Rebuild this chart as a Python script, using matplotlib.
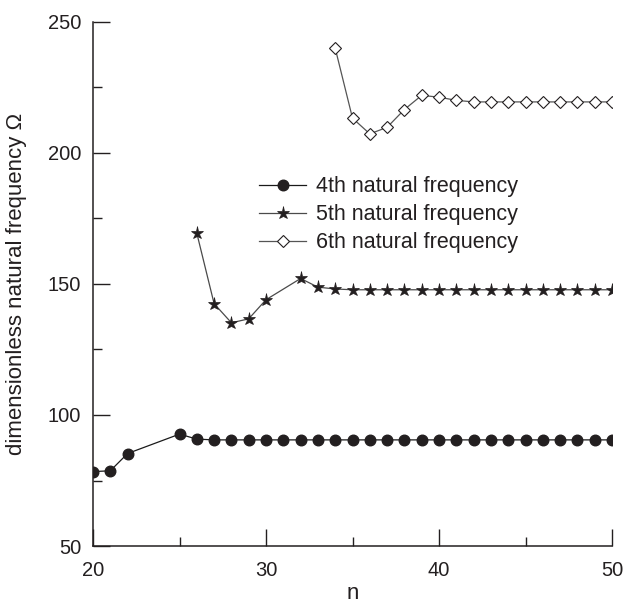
import matplotlib
matplotlib.use("Agg")
import matplotlib.pyplot as plt
from matplotlib.ticker import MultipleLocator

plt.rcParams['font.family'] = ['Liberation Sans', 'DejaVu Sans']

# Dimensionless natural frequencies versus n
n4 = [20, 21, 22, 25, 26, 27, 28, 29, 30, 31, 32, 33, 34, 35, 36, 37, 38,
      39, 40, 41, 42, 43, 44, 45, 46, 47, 48, 49, 50]
f4 = [78.4, 78.7, 85.3, 92.7, 90.8, 90.5, 90.5, 90.5, 90.5, 90.5, 90.5,
      90.5, 90.5, 90.5, 90.5, 90.5, 90.5, 90.5, 90.5, 90.5, 90.5, 90.5,
      90.5, 90.5, 90.5, 90.5, 90.5, 90.5, 90.5]

n5 = [26, 27, 28, 29, 30, 32, 33, 34, 35, 36, 37, 38, 39, 40, 41, 42, 43,
      44, 45, 46, 47, 48, 49, 50]
f5 = [169.4, 142.5, 135.2, 136.7, 144.0, 152.1, 148.8, 148.1, 147.8, 147.8,
      147.8, 147.8, 147.8, 147.8, 147.8, 147.8, 147.8, 147.8, 147.8, 147.8,
      147.8, 147.8, 147.8, 147.8]

n6 = [34, 35, 36, 37, 38, 39, 40, 41, 42, 43, 44, 45, 46, 47, 48, 49, 50]
f6 = [240.0, 213.3, 207.3, 209.8, 216.6, 222.0, 221.3, 220.1, 219.5, 219.5,
      219.5, 219.5, 219.5, 219.5, 219.5, 219.5, 219.5]

labels = ["4th natural frequency", "5th natural frequency",
          "6th natural frequency"]

ink = '#231f20'
fs_tick = 14.5
fs_label = 16
fs_leg = 15.5

fig = plt.figure(figsize=(6.26, 6.05), dpi=100)
ax = fig.add_axes([93 / 626, 1 - 546 / 605, (612 - 93) / 626, (546 - 22) / 605])

ax.plot(n4, f4, color='#1a1a1a', lw=0.9, marker='o', ms=7.6,
        mfc=ink, mec=ink, label=labels[0])
ax.plot(n5, f5, color='#4a4a4a', lw=0.9, marker='*', ms=9.5,
        mfc=ink, mec=ink, mew=0.5, label=labels[1])
ax.plot(n6, f6, color='#555555', lw=0.9, marker='D', ms=6.5,
        mfc='white', mec=ink, mew=0.8, label=labels[2])

ax.set_xlim(20, 50)
ax.set_ylim(50, 250)
ax.xaxis.set_major_locator(MultipleLocator(10))
ax.xaxis.set_minor_locator(MultipleLocator(5))
ax.yaxis.set_major_locator(MultipleLocator(50))
ax.yaxis.set_minor_locator(MultipleLocator(25))

for side in ('top', 'right'):
    ax.spines[side].set_visible(False)
for side in ('left', 'bottom'):
    ax.spines[side].set_linewidth(1.1)
    ax.spines[side].set_color(ink)

ax.tick_params(which='major', direction='in', length=12, width=1.0,
               colors=ink, labelsize=fs_tick)
ax.tick_params(which='minor', direction='in', length=6.8, width=1.0,
               colors=ink)
ax.tick_params(axis='y', which='major', pad=8.5)
ax.tick_params(axis='x', which='major', pad=11)

ax.set_xlabel('n', fontsize=fs_label, color=ink, labelpad=2)
ax.set_ylabel('dimensionless natural frequency Ω', fontsize=fs_label,
              color=ink)
ax.yaxis.set_label_coords(-0.128, 0.5)

leg = ax.legend(loc='center left', bbox_to_anchor=(0.32, 0.632),
                frameon=False, fontsize=fs_leg, handlelength=2.2,
                handletextpad=0.45, labelspacing=0.33, borderpad=0,
                borderaxespad=0)
for t in leg.get_texts():
    t.set_color(ink)

fig.savefig('out.png', dpi=100)
